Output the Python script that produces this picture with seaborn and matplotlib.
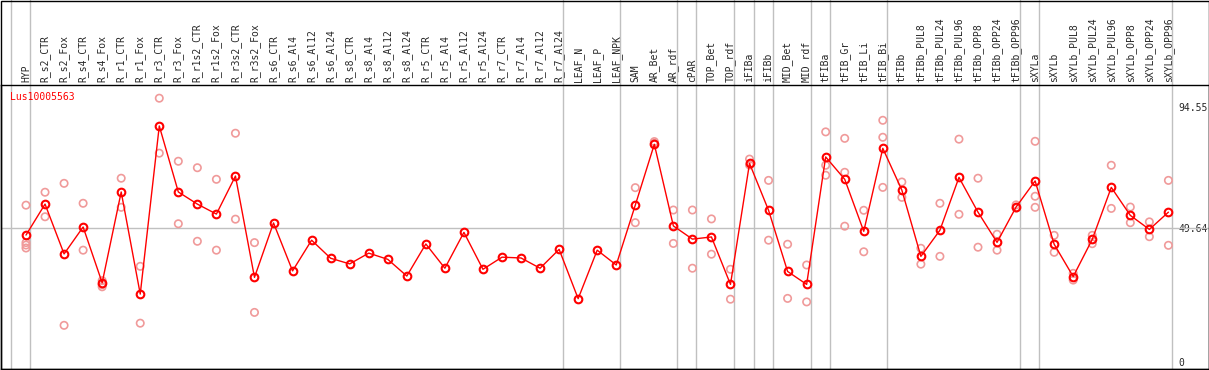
import numpy as np
import pandas as pd
import matplotlib
matplotlib.use('Agg')
import matplotlib.pyplot as plt
import seaborn as sns

# ── data ─────────────────────────────────────────────────
gene = 'Lus10005563'

samples = ['HYP', 'R_s2_CTR', 'R_s2_Fox', 'R_s4_CTR', 'R_s4_Fox', 'R_r1_CTR', 'R_r1_Fox',
           'R_r3_CTR', 'R_r3_Fox', 'R_r1s2_CTR', 'R_r1s2_Fox', 'R_r3s2_CTR', 'R_r3s2_Fox',
           'R_s6_CTR', 'R_s6_Al4', 'R_s6_Al12', 'R_s6_Al24', 'R_s8_CTR', 'R_s8_Al4',
           'R_s8_Al12', 'R_s8_Al24', 'R_r5_CTR', 'R_r5_Al4', 'R_r5_Al12', 'R_r5_Al24',
           'R_r7_CTR', 'R_r7_Al4', 'R_r7_Al12', 'R_r7_Al24', 'LEAF_N', 'LEAF_P', 'LEAF_NPK',
           'SAM', 'AR_Bet', 'AR_rdf', 'cPAR', 'TOP_Bet', 'TOP_rdf', 'iFIBa', 'iFIBb',
           'MID_Bet', 'MID_rdf', 'tFIBa', 'tFIB_Gr', 'tFIB_Li', 'tFIB_Bi', 'tFIBb',
           'tFIBb_PUL8', 'tFIBb_PUL24', 'tFIBb_PUL96', 'tFIBb_OPP8', 'tFIBb_OPP24',
           'tFIBb_OPP96', 'sXYLa', 'sXYLb', 'sXYLb_PUL8', 'sXYLb_PUL24', 'sXYLb_PUL96',
           'sXYLb_OPP8', 'sXYLb_OPP24', 'sXYLb_OPP96']

means = [47.0, 58.5, 40.0, 50.0, 29.3, 63.0, 25.1, 87.5, 63.0, 58.5, 54.8, 68.9, 31.3,
         51.5, 33.7, 45.1, 38.4, 36.3, 40.3, 38.0, 31.8, 43.7, 34.7, 48.0, 34.3,
         38.8, 38.5, 34.7, 41.7, 23.4, 41.4, 35.9,
         58.1, 80.7, 50.4, 45.5, 46.3, 28.7, 73.6, 56.2, 33.5, 28.7, 76.0, 67.7, 48.4,
         79.2, 63.7, 39.1, 48.8, 68.4, 55.5, 44.3, 57.4, 67.1, 43.6, 31.6, 45.4, 64.7,
         54.3, 49.1, 55.5]

replicates = [
    [58.1, 44.2, 43.3, 42.2], [62.9, 53.8], [66.2, 13.5], [58.8, 41.4], [30.1, 28.6, 27.8],
    [68.1, 57.3], [35.4, 14.3], [97.8, 77.4], [74.4, 51.2], [72.0, 44.7], [67.7, 41.4],
    [84.8, 52.9], [44.2, 18.3],
    [], [], [], [], [], [], [], [], [], [], [], [], [], [], [], [], [], [], [],
    [64.6, 51.6], [81.7, 81.1], [56.3, 43.9], [56.3, 34.7], [53.0, 39.9], [34.3, 23.2],
    [75.2, 73.0], [67.3, 45.1], [43.6, 23.5], [35.9, 22.2], [85.3, 72.9, 69.2],
    [82.9, 70.3, 50.3], [56.2, 40.8], [89.6, 83.3, 64.7], [66.7, 61.0], [42.1, 36.2],
    [58.8, 39.1], [82.6, 54.7], [68.1, 42.5], [47.3, 41.4], [58.2, 57.0],
    [81.8, 61.4, 57.3], [46.9, 40.6], [32.8, 30.3], [46.9, 43.8], [72.9, 56.9],
    [57.4, 51.6], [51.9, 46.4], [67.3, 43.2]]

# last sample index of each group (separator drawn just after it)
group_ends = [-1, 0, 28, 31, 34, 35, 37, 38, 39, 41, 42, 45, 52, 53, 60]

y_ticks = [0, 49.64, 94.55]
y_ref = 49.64

# ── frames ───────────────────────────────────────────────
pos = np.arange(len(samples))
mean_df = pd.DataFrame({'pos': pos, 'value': means})
rep_df = pd.DataFrame([(i, v) for i, vals in enumerate(replicates) for v in vals],
                      columns=['pos', 'value'])

sns.set_style('white')
plt.rcParams['font.family'] = ['DejaVu Sans Mono', 'DejaVu Sans']
plt.rcParams['font.size'] = 7

W, H = 1209, 370
fig = plt.figure(figsize=(W / 100, H / 100), dpi=100)
top_px, bot_px = 85, 368.5
ax = fig.add_axes([0.5 / W, (H - bot_px) / H, 1208 / W, (bot_px - top_px) / H])

# grey guides
ax.axhline(y_ref, color='#c0c0c0', lw=1, zorder=1)
head = 1 + top_px / (bot_px - top_px)
for e in group_ends:
    ax.axvline(e + 0.21, ymin=0, ymax=head, color='#c0c0c0', lw=1, clip_on=False, zorder=1)

sns.scatterplot(data=rep_df, x='pos', y='value', ax=ax, marker='o', s=28,
                facecolors='none', edgecolor='#f09a9a', linewidth=1.2, zorder=2, legend=False)
sns.lineplot(data=mean_df, x='pos', y='value', ax=ax, color='red', lw=1,
             marker='o', markersize=5.5, markerfacecolor='none', markeredgecolor='red',
             markeredgewidth=1.5, zorder=3, legend=False)

xmin = -25.5 / 19.04
ax.set_xlim(xmin, xmin + 1208 / 19.04)
ax.set_ylim(-2.52, 102.7)

ax.xaxis.tick_top()
ax.set_xticks(pos)
ax.set_xticklabels(samples, rotation=90, va='bottom', ha='center')
ax.tick_params(axis='x', length=0, pad=2.2, labelsize=7)

ax.yaxis.tick_right()
ax.set_yticks(y_ticks)
ax.set_yticklabels(['0', '49.64', '94.55'])
ax.tick_params(axis='y', length=0, pad=-21.8, labelsize=7)
ax.set_xlabel('')
ax.set_ylabel('')

for s in ax.spines.values():
    s.set_color('black')
    s.set_linewidth(1)

ax.text(0.0075, 0.958, gene, color='red', fontsize=7, transform=ax.transAxes,
        ha='left', va='center')

fig.add_artist(plt.Rectangle((0.5 / W, 1.5 / H), 1208 / W, 368 / H, transform=fig.transFigure,
                             fill=False, ec='black', lw=1))

fig.savefig('out.png', dpi=100)
plt.close(fig)
